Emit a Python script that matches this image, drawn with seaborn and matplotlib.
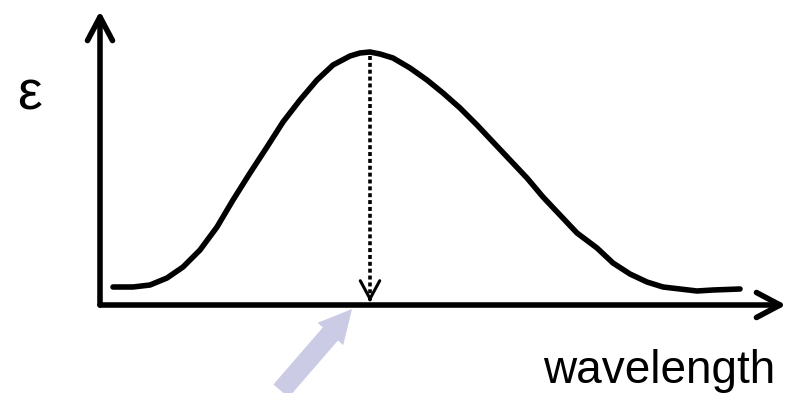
import matplotlib
matplotlib.use("Agg")
import matplotlib.pyplot as plt
import seaborn as sns
import pandas as pd

# absorption band (arbitrary units, baseline = 0)
wavelength = [13, 33, 50, 67, 83, 100, 117, 133, 150, 167, 183, 200, 217, 233, 250, 260, 270,
              280, 293, 310, 327, 343, 360, 377, 393, 410, 427, 443, 460, 477, 497, 513,
              530, 547, 563, 580, 597, 613, 640]
epsilon = [18, 18, 20, 27, 38, 55, 78, 105, 132, 158, 183, 205, 225, 240, 249, 252, 253,
           251, 247, 237, 225, 212, 197, 180, 163, 145, 127, 108, 90, 72, 57, 42,
           31, 23, 18, 16, 14, 15, 16]
peak_wl = 270
peak_eps = 253
x_label = "wavelength"
y_label = "ε"

df = pd.DataFrame({"wavelength": wavelength, "epsilon": epsilon})

sns.set_theme(style="white")
plt.rcParams['font.family'] = ['Liberation Sans', 'DejaVu Sans']

fig = plt.figure(figsize=(7.96, 3.93), dpi=100)
ax = fig.add_axes([0, 0, 1, 1])
ax.set_xlim(-100, 696)
ax.set_ylim(-88, 305)
ax.axis("off")

sns.lineplot(data=df, x="wavelength", y="epsilon", ax=ax, color="black",
             linewidth=4, solid_capstyle="round", sort=False)

# axes drawn as arrows
axis_arrow = dict(arrowstyle="->,head_length=1.7,head_width=0.9", mutation_scale=10,
                  lw=4, color="black", shrinkA=0, shrinkB=0)
ax.annotate("", xy=(0, 294), xytext=(0, 0), arrowprops=axis_arrow)
ax.annotate("", xy=(686, 0), xytext=(0, 0), arrowprops=axis_arrow)

# dotted drop line from the maximum, with an open head at the axis
ax.plot([peak_wl, peak_wl], [peak_eps - 4, 5], color="black", lw=2.6,
        linestyle=(0, (1.1, 0.8)), dash_capstyle="butt")
ax.annotate("", xy=(peak_wl, 3), xytext=(peak_wl, 6),
            arrowprops=dict(arrowstyle="->,head_length=1.3,head_width=0.7", mutation_scale=10,
                            lw=2.2, color="black", shrinkA=0, shrinkB=0))

# lavender pointer arrow
ax.arrow(181, -86, peak_wl - 18 - 181, 82, width=20, head_width=34,
         head_length=33, length_includes_head=True, color="#cbcbe6", lw=0)

ax.text(-70, 210, y_label, fontsize=40, ha="center", va="center", color="black")
ax.text(675, -78, x_label, fontsize=33, ha="right", va="baseline", color="black")

fig.savefig("out.png", dpi=100)
